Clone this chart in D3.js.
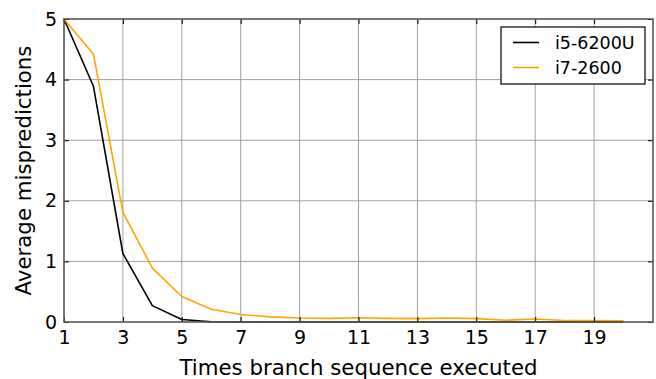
<!DOCTYPE html>
<html>
<head>
<meta charset="utf-8">
<script src="https://cdn.jsdelivr.net/npm/d3@7"></script>
<style>
  html, body { margin: 0; padding: 0; background: #fff; }
  svg { display: block; font-family: "DejaVu Sans", sans-serif; }
</style>
</head>
<body>
<svg id="chart" width="656" height="379"></svg>
<script>
// Times a branch sequence was executed
const runs = d3.range(1, 21);
// Average mispredictions per run, by CPU
const i5_6200U = [5.0, 3.89, 1.13, 0.27, 0.04, 0.005, 0.0, 0.0, 0.0, 0.0,
                  0.0, 0.0, 0.0, 0.0, 0.0, 0.0, 0.0, 0.0, 0.0, 0.0];
const i7_2600  = [5.0, 4.42, 1.81, 0.89, 0.42, 0.21, 0.125, 0.085, 0.065, 0.06,
                  0.07, 0.06, 0.055, 0.065, 0.055, 0.03, 0.05, 0.025, 0.025, 0.02];
const seriesNames = ["i5-6200U", "i7-2600"];
const seriesColors = ["#000000", "#ffa500"];
const xTicks = [1, 3, 5, 7, 9, 11, 13, 15, 17, 19];
const yTicks = [0, 1, 2, 3, 4, 5];

const svg = d3.select("#chart");
const m = { left: 64, top: 19, right: 653, bottom: 322 };

const x = d3.scaleLinear().domain([1, 21]).range([m.left, m.right]);
const y = d3.scaleLinear().domain([0, 5]).range([m.bottom, m.top]);

// grid
const grid = svg.append("g");
grid.selectAll("line.gx").data(xTicks.slice(1)).enter().append("line")
  .attr("x1", d => x(d)).attr("x2", d => x(d))
  .attr("y1", m.top).attr("y2", m.bottom)
  .attr("stroke", "#a0a0a0").attr("stroke-width", 1);
grid.selectAll("line.gy").data(yTicks.slice(1, -1)).enter().append("line")
  .attr("x1", m.left).attr("x2", m.right)
  .attr("y1", d => y(d)).attr("y2", d => y(d))
  .attr("stroke", "#a0a0a0").attr("stroke-width", 1);

// lines
const series = [i5_6200U, i7_2600];
const line = d3.line().x((d, i) => x(runs[i])).y(d => y(d));
series.forEach((s, k) => {
  svg.append("path").datum(s)
    .attr("fill", "none")
    .attr("stroke", seriesColors[k])
    .attr("stroke-width", 1.6)
    .attr("stroke-linejoin", "round")
    .attr("d", line);
});

// axes with inward ticks on all four sides
const tickLen = 5;
const fmt = d3.format("d");
const xAxisB = d3.axisBottom(x).tickValues(xTicks).tickFormat(fmt).tickSizeInner(-tickLen).tickSizeOuter(0).tickPadding(9);
const xAxisT = d3.axisTop(x).tickValues(xTicks).tickSizeInner(-tickLen).tickSizeOuter(0).tickFormat("");
const yAxisL = d3.axisLeft(y).tickValues(yTicks).tickFormat(fmt).tickSizeInner(-tickLen).tickSizeOuter(0).tickPadding(7);
const yAxisR = d3.axisRight(y).tickValues(yTicks).tickSizeInner(-tickLen).tickSizeOuter(0).tickFormat("");

function style(g) {
  g.select(".domain").remove();
  g.selectAll(".tick line").attr("stroke", "#000").attr("stroke-width", 1);
  g.selectAll(".tick text").attr("fill", "#000").attr("font-size", 19)
    .attr("font-family", "DejaVu Sans");
}
svg.append("g").attr("transform", `translate(0,${m.bottom})`).call(xAxisB).call(style);
svg.append("g").attr("transform", `translate(0,${m.top})`).call(xAxisT).call(style);
svg.append("g").attr("transform", `translate(${m.left},0)`).call(yAxisL).call(style);
svg.append("g").attr("transform", `translate(${m.right},0)`).call(yAxisR).call(style);

// frame
svg.append("rect")
  .attr("x", m.left).attr("y", m.top)
  .attr("width", m.right - m.left).attr("height", m.bottom - m.top)
  .attr("fill", "none").attr("stroke", "#555").attr("stroke-width", 1.6);

// axis titles
svg.append("text")
  .attr("x", (m.left + m.right) / 2).attr("y", 375)
  .attr("text-anchor", "middle").attr("font-size", 21.3).attr("fill", "#000")
  .text("Times branch sequence executed");
svg.append("text")
  .attr("transform", `translate(31,${(m.top + m.bottom) / 2}) rotate(-90)`)
  .attr("text-anchor", "middle").attr("font-size", 21.3).attr("fill", "#000")
  .text("Average mispredictions");

// legend
const lg = svg.append("g").attr("transform", "translate(501,27)");
lg.append("rect").attr("width", 144).attr("height", 57)
  .attr("fill", "#fff").attr("stroke", "#000").attr("stroke-width", 1.2);
seriesNames.forEach((name, k) => {
  const yy = 15.5 + k * 25;
  lg.append("line").attr("x1", 12).attr("x2", 38).attr("y1", yy).attr("y2", yy)
    .attr("stroke", seriesColors[k]).attr("stroke-width", 1.6);
  lg.append("text").attr("x", 54).attr("y", yy).attr("dy", "0.35em")
    .attr("font-size", 17.5).attr("fill", "#000").text(name);
});
</script>
</body>
</html>
